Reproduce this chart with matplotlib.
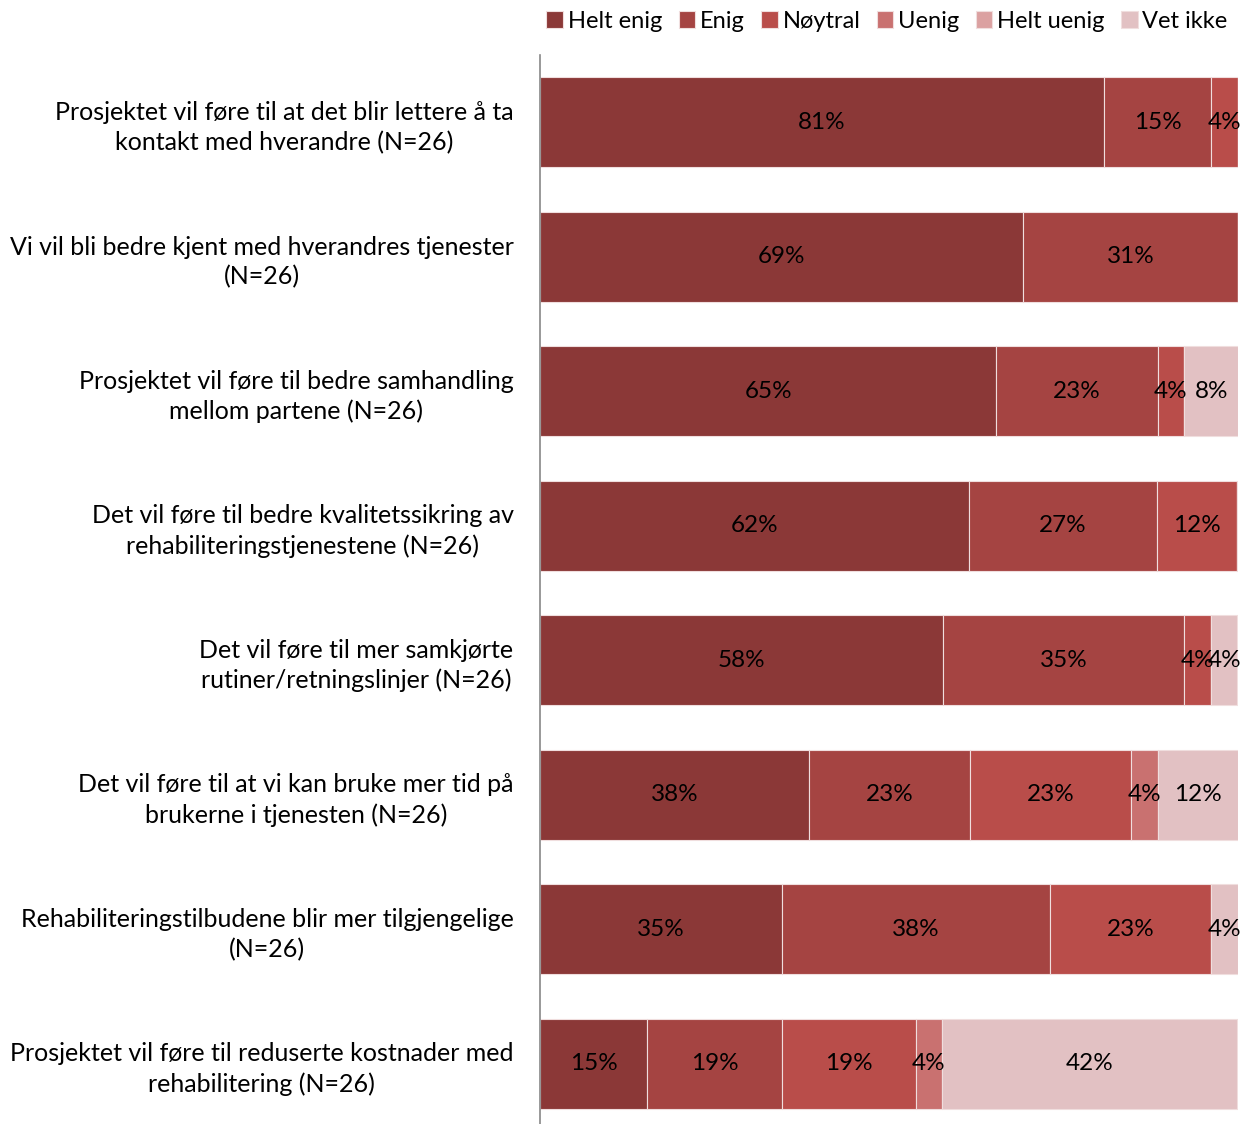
import numpy as np
import matplotlib
matplotlib.use("Agg")
import matplotlib.pyplot as plt

plt.rcParams['font.family'] = ['Lato', 'DejaVu Sans']

# survey statements, top to bottom
questions = [
    "Prosjektet vil føre til at det blir lettere å ta\nkontakt med hverandre (N=26)",
    "Vi vil bli bedre kjent med hverandres tjenester\n(N=26)",
    "Prosjektet vil føre til bedre samhandling\nmellom partene (N=26)",
    "Det vil føre til bedre kvalitetssikring av\nrehabiliteringstjenestene (N=26)",
    "Det vil føre til mer samkjørte\nrutiner/retningslinjer (N=26)",
    "Det vil føre til at vi kan bruke mer tid på\nbrukerne i tjenesten (N=26)",
    "Rehabiliteringstilbudene blir mer tilgjengelige\n(N=26)",
    "Prosjektet vil føre til reduserte kostnader med\nrehabilitering (N=26)",
]

categories = ["Helt enig", "Enig", "Nøytral", "Uenig", "Helt uenig", "Vet ikke"]

# percentages per answer category (one value per question)
helt_enig  = [80.8, 69.2, 65.4, 61.5, 57.7, 38.5, 34.6, 15.4]
enig       = [15.4, 30.8, 23.1, 26.9, 34.6, 23.1, 38.5, 19.2]
noytral    = [3.8, 0.0, 3.8, 11.5, 3.8, 23.1, 23.1, 19.2]
uenig      = [0.0, 0.0, 0.0, 0.0, 0.0, 3.8, 0.0, 3.8]
helt_uenig = [0.0, 0.0, 0.0, 0.0, 0.0, 0.0, 0.0, 0.0]
vet_ikke   = [0.0, 0.0, 7.7, 0.0, 3.8, 11.5, 3.8, 42.3]

colors = ["#8B3837", "#A54442", "#B94D4A", "#C97170", "#DBA1A1", "#E2C1C3"]

series = [helt_enig, enig, noytral, uenig, helt_uenig, vet_ikke]

fig = plt.figure(figsize=(12.43, 11.24), dpi=100)
ax = fig.add_axes([540 / 1243, -7 / 1124, 698 / 1243, 1076 / 1124])

y = np.arange(len(questions))
left = np.zeros(len(questions))
for name, vals, col in zip(categories, series, colors):
    vals = np.array(vals)
    ax.barh(y, vals, left=left, height=0.67, color=col, label=name,
            edgecolor="#f0dede", linewidth=0.8)
    for yi, (l, v) in enumerate(zip(left, vals)):
        if v > 0:
            ax.text(l + v / 2, yi, f"{v:.0f}%", ha="center", va="center",
                    fontsize=17.5, color="black")
    left += vals

ax.set_xlim(0, 100)
ax.set_ylim(len(questions) - 0.5, -0.5)
ax.set_yticks(y)
ax.set_yticklabels(questions, fontsize=18, linespacing=1.35)
for lab in ax.get_yticklabels():
    lab.set_multialignment("center")
ax.tick_params(axis="y", length=0, pad=19)
ax.set_xticks([])
for s in ["top", "right", "bottom"]:
    ax.spines[s].set_visible(False)
ax.spines["left"].set_color("#888888")
ax.spines["left"].set_linewidth(1.2)

ax.legend(loc="center", bbox_to_anchor=(887 / 1243, 1 - 21 / 1124),
          bbox_transform=fig.transFigure, ncol=6, frameon=False,
          fontsize=17, handlelength=0.7, handleheight=0.7,
          handletextpad=0.2, columnspacing=0.7, borderpad=0)

fig.savefig("out.png", dpi=100)
